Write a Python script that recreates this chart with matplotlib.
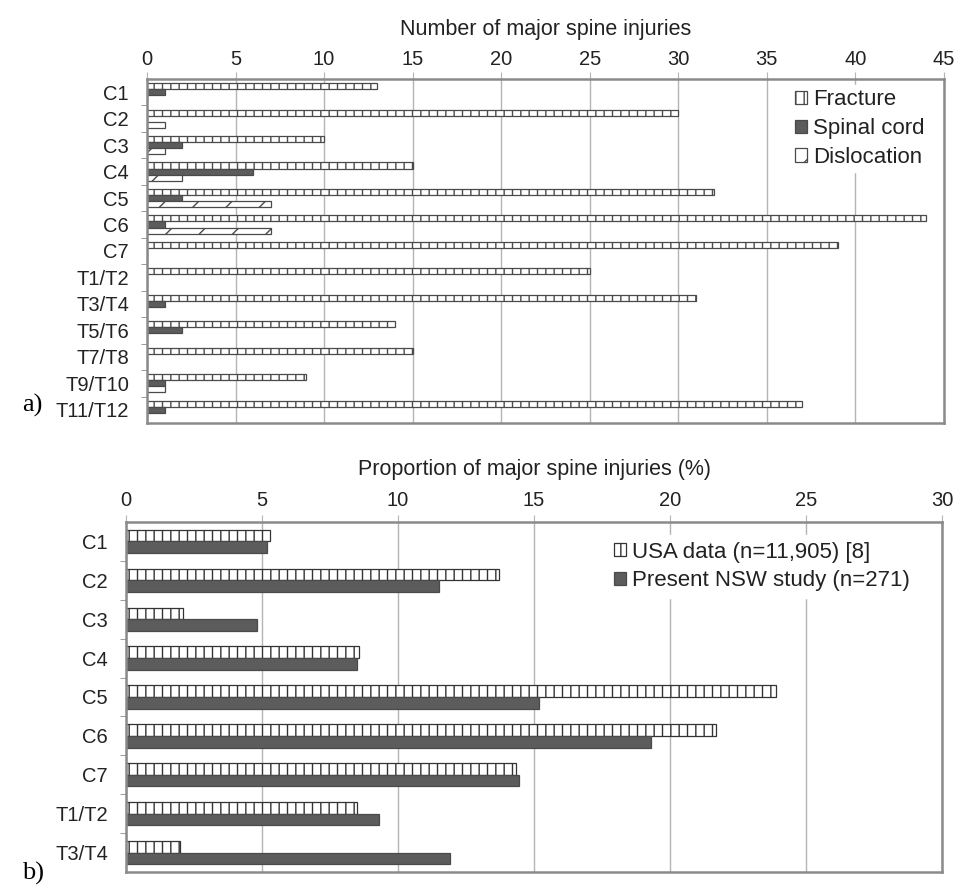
import matplotlib
matplotlib.use("Agg")
import matplotlib.pyplot as plt
import numpy as np

plt.rcParams['font.family'] = ['Liberation Sans', 'DejaVu Sans']
plt.rcParams['hatch.linewidth'] = 1.0

# ---- Data: panel a ----
levels_a = ["C1", "C2", "C3", "C4", "C5", "C6", "C7", "T1/T2", "T3/T4",
            "T5/T6", "T7/T8", "T9/T10", "T11/T12"]
fracture = [13, 30, 10, 15, 32, 44, 39, 25, 31, 14, 15, 9, 37]
spinal_cord = [1, 0, 2, 6, 2, 1, 0, 0, 1, 2, 0, 1, 1]
dislocation = [0, 1, 1, 2, 7, 7, 0, 0, 0, 0, 0, 1, 0]
ticks_a = [0, 5, 10, 15, 20, 25, 30, 35, 40, 45]

# ---- Data: panel b ----
levels_b = ["C1", "C2", "C3", "C4", "C5", "C6", "C7", "T1/T2", "T3/T4"]
usa = [5.3, 13.7, 2.1, 8.55, 23.9, 21.7, 14.35, 8.5, 2.0]
nsw = [5.2, 11.5, 4.8, 8.5, 15.2, 19.3, 14.45, 9.3, 11.9]
ticks_b = [0, 5, 10, 15, 20, 25, 30]

FS = 14.5
FS_TITLE = 15.5
GRID = '#b4b4b4'
FRAME = '#8a8a8a'
DARK = '#4a4a4a'
SOLID = '#5c5c5c'
TXT = '#222222'

fig = plt.figure(figsize=(9.57, 8.89), dpi=100)


def style_axes(ax, ncat, ticks, xlabel, pad, labelpad):
    ax.set_xlim(ticks[0], ticks[-1])
    ax.set_ylim(ncat - 0.5, -0.5)
    ax.xaxis.tick_top()
    ax.xaxis.set_label_position('top')
    ax.set_xticks(ticks)
    ax.set_xticklabels([str(t) for t in ticks], fontsize=FS, color=TXT)
    ax.set_xlabel(xlabel, fontsize=FS_TITLE, labelpad=labelpad, color=TXT)
    ax.tick_params(axis='x', which='major', length=5, color=GRID, pad=pad)
    ax.set_yticks(np.arange(ncat - 1) + 0.5, minor=True)
    ax.tick_params(axis='y', which='minor', length=4, color=FRAME, left=True)
    ax.tick_params(axis='y', which='major', length=0, pad=13)
    ax.grid(axis='x', color=GRID, linewidth=1.0)
    ax.set_axisbelow(True)
    for s in ax.spines.values():
        s.set_color(FRAME)
        s.set_linewidth(1.8)


# ---- Panel a ----
ax1 = fig.add_axes([147 / 957, 1 - 423 / 889, (944 - 147) / 957, (423 - 79) / 889])
y = np.arange(len(levels_a))
h = 0.23
ax1.barh(y - h, fracture, height=h, color='white', edgecolor=DARK,
         hatch='||', linewidth=0.9, label='Fracture')
ax1.barh(y, spinal_cord, height=h, color=SOLID, edgecolor=DARK,
         linewidth=0.9, label='Spinal cord')
ax1.barh(y + h, dislocation, height=h, color='white', edgecolor=DARK,
         hatch='/', linewidth=0.9, label='Dislocation')
ax1.set_yticks(y)
ax1.set_yticklabels(levels_a, fontsize=FS, color=TXT)
style_axes(ax1, len(levels_a), ticks_a, 'Number of major spine injuries', 2.5, 10.5)
leg1 = ax1.legend(loc='upper right', bbox_to_anchor=(0.995, 1.015), fontsize=16,
                  frameon=True, framealpha=1, edgecolor='white', fancybox=False,
                  handlelength=0.55, handleheight=0.55, handletextpad=0.25,
                  labelspacing=0.35, borderpad=0.2)
for t in leg1.get_texts():
    t.set_color(TXT)
fig.text(22 / 957, 1 - 405 / 889, 'a)', fontsize=19, family='Liberation Serif',
         ha='left', va='center')

# ---- Panel b ----
ax2 = fig.add_axes([126 / 957, 1 - 872 / 889, (942 - 126) / 957, (872 - 522) / 889])
y2 = np.arange(len(levels_b))
h2 = 0.3
ax2.barh(y2 - h2 / 2, usa, height=h2, color='white', edgecolor='#333333',
         hatch='||', linewidth=0.9, label='USA data (n=11,905) [8]')
ax2.barh(y2 + h2 / 2, nsw, height=h2, color=SOLID, edgecolor=DARK,
         linewidth=0.9, label='Present NSW study (n=271)')
ax2.set_yticks(y2)
ax2.set_yticklabels(levels_b, fontsize=FS, color=TXT)
style_axes(ax2, len(levels_b), ticks_b, 'Proportion of major spine injuries (%)', 4, 11.5)
leg2 = ax2.legend(loc='upper right', bbox_to_anchor=(0.982, 0.995), fontsize=16,
                  frameon=True, framealpha=1, edgecolor='white', fancybox=False,
                  handlelength=0.55, handleheight=0.55, handletextpad=0.25,
                  labelspacing=0.35, borderpad=0.3)
for t in leg2.get_texts():
    t.set_color(TXT)
fig.text(22 / 957, 1 - 873 / 889, 'b)', fontsize=19, family='Liberation Serif',
         ha='left', va='center')

fig.savefig('out.png', dpi=100)
